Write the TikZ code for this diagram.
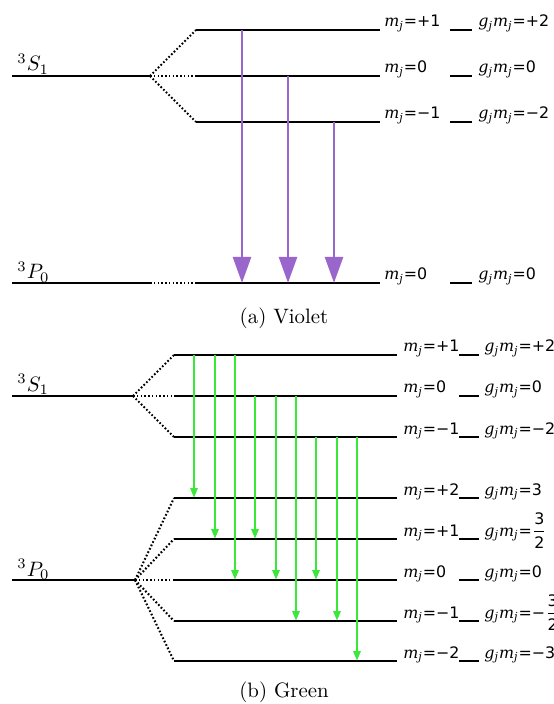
\documentclass[tikz,border=0pt]{standalone}
\usepackage{amsmath}
\usepackage{fontspec}
\usetikzlibrary{arrows.meta}
\newfontfamily\lblserif{DejaVu Serif}
\newfontfamily\lblsans{DejaVu Sans}
\definecolor{violetline}{RGB}{153,102,204}
\definecolor{greenline}{RGB}{58,232,58}
\newcommand{\lblsize}{\fontsize{7.6}{9}\selectfont}
\newcommand{\mjlabel}[1]{{\lblserif\itshape m}\textsubscript{\lblserif\itshape j}{\lblsans =#1}}
\newcommand{\gmlabel}[1]{{\lblserif\itshape g}\textsubscript{\lblserif\itshape j}{\lblserif\itshape m}\textsubscript{\lblserif\itshape j}{\lblsans =#1}}
\newcommand{\threehalf}{\ensuremath{\dfrac{\hbox{\lblsans 3}}{\hbox{\lblsans 2}}}}

\begin{document}
\begin{tikzpicture}[x=0.48pt, y=-0.48pt,
    level/.style={line width=1pt},
    split/.style={line width=1pt, dash pattern=on 0.8pt off 1pt},
    varrow/.style={draw=violetline, line width=1.3pt, -{Triangle[length=12.5pt,width=8.6pt]}},
    garrow/.style={draw=greenline, line width=1.3pt, -{Triangle[length=4.8pt,width=3.4pt]}},
    lbl/.style={anchor=base west, inner sep=0pt, font=\lblsize},
    term/.style={anchor=base west, inner sep=0pt}]
    \useasboundingbox (0,0) rectangle (554,704);

    % (a) Violet: upper term
    \coordinate (aSl) at (12,76);
    \coordinate (aSc) at (150,76);
    \draw[level] (aSl) -- (aSc);
    \node[term] (aSterm) at (17,71) {$^3S_1$};
    \foreach \y/\m/\g [count=\i] in {30/{+1}/{+2}, 76/0/0, 122/{−1}/{−2}} {
        \coordinate (aS\i) at (196,\y);
        \draw[level] (aS\i) -- ++(184,0);
        \draw[split] (aSc) -- (aS\i);
        \node[lbl] (aSm\i) at (384,\y-3) {\mjlabel{\m}};
        \draw[level] (450,\y) -- (472,\y);
        \node[lbl] (aSg\i) at (478,\y-3) {\gmlabel{\g}};
    }

    % (a) Violet: lower term
    \coordinate (aPl) at (12,283);
    \coordinate (aPc) at (150,283);
    \coordinate (aP1) at (196,283);
    \draw[level] (aPl) -- (aPc);
    \draw[split] (aPc) -- (aP1);
    \draw[level] (aP1) -- ++(184,0);
    \node[term] (aPterm) at (17,279) {$^3P_0$};
    \node[lbl] (aPm1) at (384,280) {\mjlabel{0}};
    \draw[level] (450,283) -- (472,283);
    \node[lbl] (aPg1) at (478,280) {\gmlabel{0}};

    % violet transitions
    \foreach \x/\i in {242/1, 288/2, 334/3}
        \draw[varrow] (\x,0 |- aS\i) -- (\x,0 |- aP1);

    \node[anchor=base] (capa) at (284,324) {(a) Violet};

    % (b) Green: upper term
    \coordinate (bSl) at (12,396);
    \coordinate (bSc) at (133,396);
    \draw[level] (bSl) -- (bSc);
    \node[term] (bSterm) at (17,391) {$^3S_1$};
    \foreach \y/\m/\g [count=\i] in {355/{+1}/{+2}, 396/0/0, 437/{−1}/{−2}} {
        \coordinate (bS\i) at (174,\y);
        \draw[level] (bS\i) -- ++(223,0);
        \draw[split] (bSc) -- (bS\i);
        \node[lbl] (bSm\i) at (403,\y-3) {\mjlabel{\m}};
        \draw[level] (459,\y) -- (479,\y);
        \node[lbl] (bSg\i) at (484,\y-3) {\gmlabel{\g}};
    }

    % (b) Green: lower term
    \coordinate (bPl) at (12,580);
    \coordinate (bPc) at (135,580);
    \draw[level] (bPl) -- (bPc);
    \node[term] (bPterm) at (17,576) {$^3P_0$};
    \foreach \y/\m/\g [count=\i] in {498/{+2}/3, 539/{+1}/{\threehalf}, 580/0/0, 621/{−1}/{−\threehalf}, 661/{−2}/{−3}} {
        \coordinate (bP\i) at (174,\y);
        \draw[level] (bP\i) -- ++(223,0);
        \draw[split] (bPc) -- (bP\i);
        \node[lbl] (bPm\i) at (403,\y-3) {\mjlabel{\m}};
        \draw[level] (459,\y) -- (479,\y);
        \node[lbl] (bPg\i) at (484,\y-3) {\gmlabel{\g}};
    }

    % green transitions
    \foreach \x/\i/\j in {194/1/1, 215/1/2, 235/1/3, 255/2/2, 276/2/3, 296/2/4, 316/3/3, 337/3/4, 357/3/5}
        \draw[garrow] (\x,0 |- bS\i) -- (\x,0 |- bP\j);

    \node[anchor=base] (capb) at (284,697) {(b) Green};
\end{tikzpicture}
\end{document}
